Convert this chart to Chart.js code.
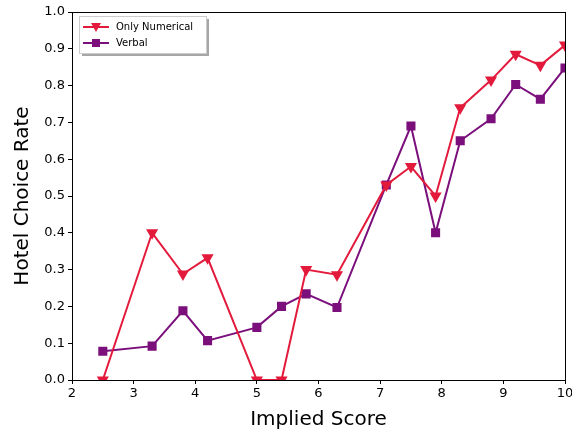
<!DOCTYPE html>
<html>
<head>
<meta charset="utf-8">
<script src="https://cdn.jsdelivr.net/npm/chart.js@4/dist/chart.umd.min.js"></script>
<style>
  html, body { margin: 0; padding: 0; background: #fff; }
  #wrap { width: 572px; height: 429px; }
</style>
</head>
<body>
<div id="wrap"><canvas id="hotelChart" width="572" height="429"></canvas></div>
<script>
const scores = [2.5, 3.3, 3.8, 4.2, 5.0, 5.4, 5.8, 6.3, 7.1, 7.5, 7.9, 8.3, 8.8, 9.2, 9.6, 10];
const onlyNumerical = [0, 0.40, 0.288, 0.332, 0, 0, 0.30, 0.286, 0.53, 0.58, 0.50, 0.74, 0.815, 0.885, 0.855, 0.91];
const verbal = [0.078, 0.092, 0.188, 0.107, 0.143, 0.20, 0.234, 0.197, 0.53, 0.69, 0.40, 0.65, 0.71, 0.803, 0.763, 0.848];
const seriesNames = ['Only Numerical', 'Verbal'];
const xTicks = [2, 3, 4, 5, 6, 7, 8, 9, 10];
const yTicks = [0, 0.1, 0.2, 0.3, 0.4, 0.5, 0.6, 0.7, 0.8, 0.9, 1.0];

const RED = '#e31a3c';
const PURPLE = '#7b0f7b';
const FONT = "'DejaVu Sans', sans-serif";

function toPoints(values) {
    return scores.map(function(s, i) { return { x: s, y: values[i] }; });
}

// box around the plot, like matplotlib spines
const frame = {
    id: 'frame',
    afterDatasetsDraw(chart) {
        const a = chart.chartArea, ctx = chart.ctx;
        ctx.save();
        ctx.strokeStyle = '#000';
        ctx.lineWidth = 1;
        ctx.strokeRect(a.left + 0.5, a.top + 0.5, a.right - a.left, a.bottom - a.top);
        ctx.restore();
    }
};

// legend box in the upper-left corner
const cornerLegend = {
    id: 'cornerLegend',
    afterDraw(chart) {
        const a = chart.chartArea, ctx = chart.ctx;
        const x = a.left + 7, y = a.top + 4, w = 127, h = 37;
        ctx.save();
        ctx.fillStyle = 'rgba(0,0,0,0.35)';
        ctx.fillRect(x + 3, y + 3, w, h);
        ctx.fillStyle = '#fff';
        ctx.fillRect(x, y, w, h);
        ctx.strokeStyle = '#ccc';
        ctx.lineWidth = 1;
        ctx.strokeRect(x + 0.5, y + 0.5, w, h);
        ctx.font = '10px ' + FONT;
        ctx.textBaseline = 'middle';
        chart.data.datasets.forEach(function(ds, i) {
            const ly = y + 11 + i * 16;
            ctx.strokeStyle = ds.borderColor;
            ctx.lineWidth = 2;
            ctx.beginPath();
            ctx.moveTo(x + 4, ly);
            ctx.lineTo(x + 30, ly);
            ctx.stroke();
            ctx.fillStyle = ds.backgroundColor;
            if (i === 0) {
                ctx.beginPath();
                ctx.moveTo(x + 12, ly - 4);
                ctx.lineTo(x + 22, ly - 4);
                ctx.lineTo(x + 17, ly + 5);
                ctx.closePath();
                ctx.fill();
            } else {
                ctx.fillRect(x + 13, ly - 4, 8, 8);
            }
            ctx.fillStyle = '#000';
            ctx.fillText(ds.label, x + 37, ly);
        });
        ctx.restore();
    }
};

const ctx = document.getElementById('hotelChart').getContext('2d');
new Chart(ctx, {
    type: 'scatter',
    data: {
        datasets: [{
            label: seriesNames[0],
            data: toPoints(onlyNumerical),
            showLine: true,
            borderColor: RED,
            backgroundColor: RED,
            borderWidth: 2,
            pointStyle: 'triangle',
            rotation: 180,
            pointRadius: 5,
            pointHoverRadius: 5
        }, {
            label: seriesNames[1],
            data: toPoints(verbal),
            showLine: true,
            borderColor: PURPLE,
            backgroundColor: PURPLE,
            borderWidth: 2,
            pointStyle: 'rect',
            pointRadius: 5,
            pointHoverRadius: 5
        }]
    },
    options: {
        responsive: false,
        animation: false,
        layout: { padding: { top: 12, right: 6, left: 0, bottom: 0 } },
        plugins: {
            legend: { display: false },
            tooltip: { enabled: false }
        },
        scales: {
            x: {
                type: 'linear',
                min: 2,
                max: 10,
                afterBuildTicks(scale) { scale.ticks = xTicks.map(function(v) { return { value: v }; }); },
                afterFit(scale) { scale.paddingLeft = 0; scale.paddingRight = 0; scale.height = 49; },
                grid: { drawOnChartArea: false, drawTicks: true, tickLength: 4, color: '#000' },
                border: { display: true, color: '#000' },
                ticks: { color: '#000', font: { family: FONT, size: 13 }, padding: 2, maxRotation: 0 },
                title: { display: true, text: 'Implied Score', color: '#000', font: { family: FONT, size: 20 }, padding: { top: 0, bottom: -3 } }
            },
            y: {
                min: 0,
                max: 1,
                afterBuildTicks(scale) { scale.ticks = yTicks.map(function(v) { return { value: v }; }); },
                afterFit(scale) { scale.width = 72; },
                grid: { drawOnChartArea: false, drawTicks: true, tickLength: 4, color: '#000' },
                border: { display: true, color: '#000' },
                ticks: {
                    color: '#000',
                    font: { family: FONT, size: 13 },
                    padding: 3,
                    callback: function(v) { return v.toFixed(1); }
                },
                title: { display: true, text: 'Hotel Choice Rate', color: '#000', font: { family: FONT, size: 20 }, padding: { top: 11, bottom: 0 } }
            }
        }
    },
    plugins: [frame, cornerLegend]
});
</script>
</body>
</html>
